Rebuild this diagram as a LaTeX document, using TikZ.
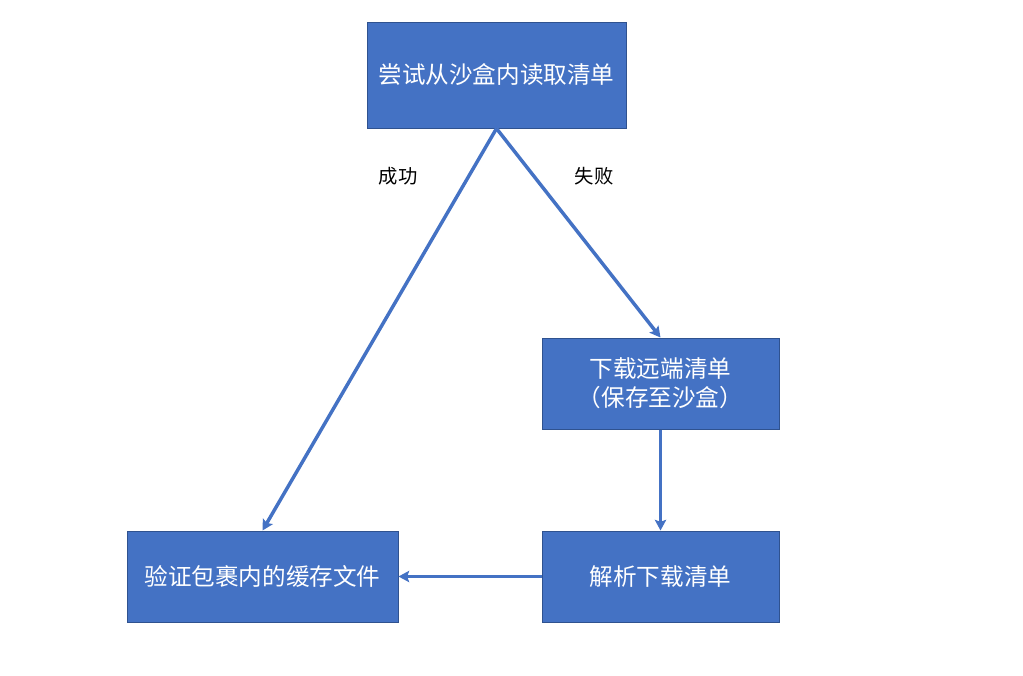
\documentclass[tikz,border=0pt]{standalone}
\usepackage{fontspec}
\setmainfont{Noto Sans CJK SC}
\usetikzlibrary{arrows.meta}
\definecolor{boxfill}{HTML}{4472C4}
\definecolor{boxline}{HTML}{2F528F}
\tikzset{
  flowbox/.style={draw=boxline, line width=0.75pt, fill=boxfill, text=white,
    font=\fontsize{17.7pt}{21.5pt}\selectfont, align=center, inner sep=0pt},
  conn/.style={draw=boxfill, line width=2.6pt,
    -{Stealth[length=8pt,width=8.5pt,inset=1.5pt]}},
  lbl/.style={font=\fontsize{14.5pt}{17pt}\selectfont, text=black}
}
\begin{document}
\begin{tikzpicture}[x=0.75pt,y=-0.75pt]
\useasboundingbox (0,0) rectangle (1023,675);
\node[flowbox, minimum width=194.25pt, minimum height=79.5pt] (top) at (496.5,75) {尝试从沙盒内读取清单};
\node[flowbox, minimum width=177.75pt, minimum height=68.25pt] (mid) at (660.5,383.5) {下载远端清单\\（保存至沙盒）};
\node[flowbox, minimum width=177.75pt, minimum height=68.25pt] (br) at (660.5,576.5) {解析下载清单};
\node[flowbox, minimum width=203.25pt, minimum height=68.25pt] (bl) at (262.5,576.5) {验证包裹内的缓存文件};
\draw[conn] (top.south) -- (bl.north);
\draw[conn] (top.south) -- (mid.north);
\draw[conn] (mid.south) -- (br.north);
\draw[conn] (br.west) -- (bl.east);
\node[lbl] (ok) at (398,176) {成功};
\node[lbl] (fail) at (594,176) {失败};
\end{tikzpicture}
\end{document}
